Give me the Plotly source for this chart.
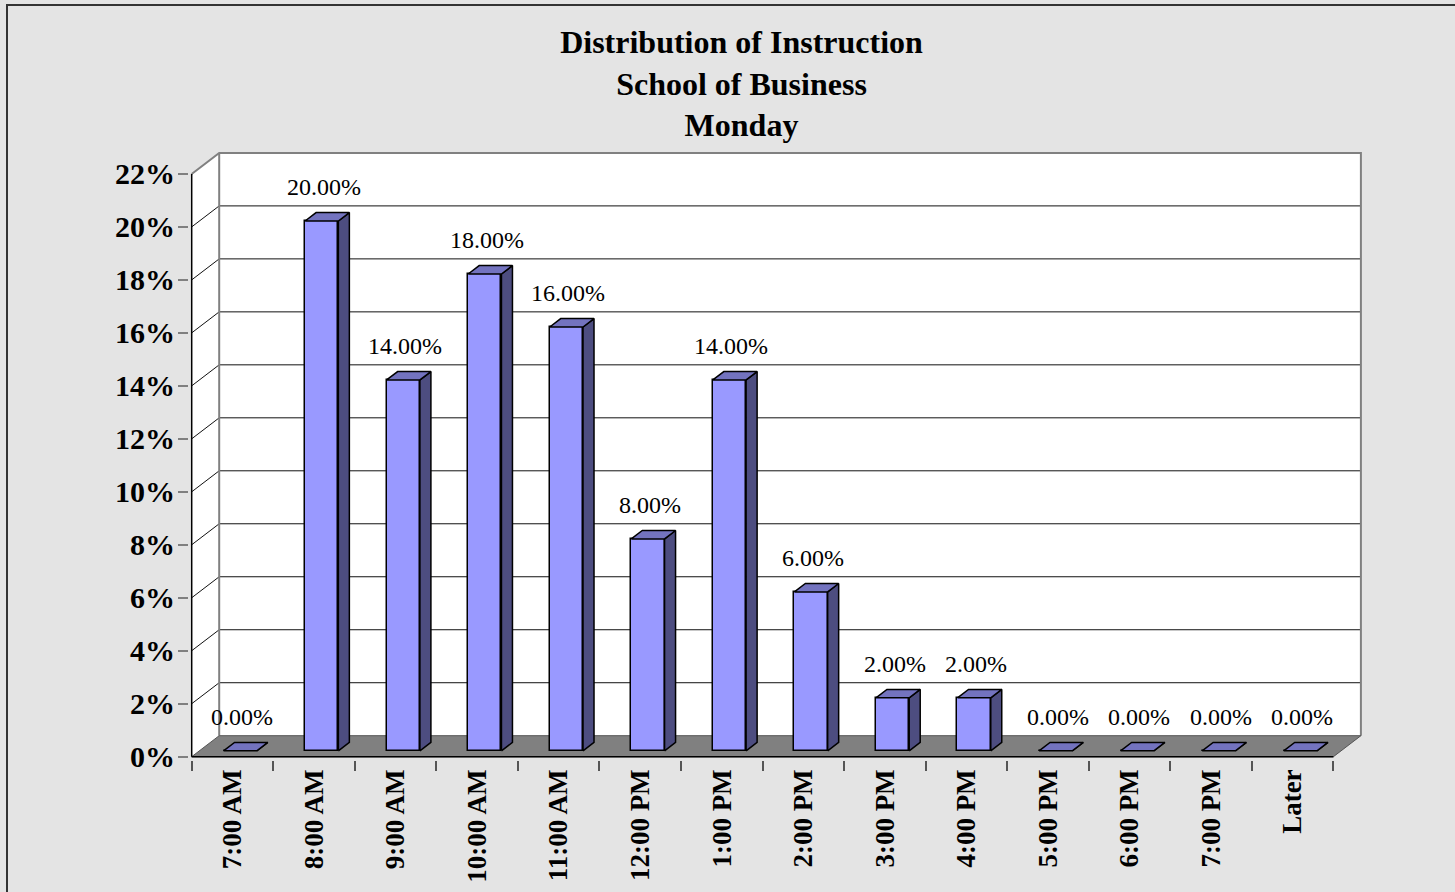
import plotly.graph_objects as go

# ---------------- data ----------------
categories = ["7:00 AM", "8:00 AM", "9:00 AM", "10:00 AM", "11:00 AM", "12:00 PM",
              "1:00 PM", "2:00 PM", "3:00 PM", "4:00 PM", "5:00 PM", "6:00 PM",
              "7:00 PM", "Later"]
shares = [0, 20, 14, 18, 16, 8, 14, 6, 2, 2, 0, 0, 0, 0]
y_ticks = [0, 2, 4, 6, 8, 10, 12, 14, 16, 18, 20, 22]
title_lines = ["Distribution of Instruction", "School of Business", "Monday"]

# ---------------- geometry / style ----------------
FIG_W, FIG_H = 1455, 892
PX_X = 81.55          # px per category
PX_Y = 26.49          # px per percent
FRONT_X0 = 191.7      # px of front edge x=-0.5
FRONT_Y0 = 756.7      # px of front y=0
DX = 27.5 / PX_X      # depth offset in x units
DY = 21.0 / PX_Y      # depth offset in y units
L, R, T, B = 189, 91, 150, 132
PW = FIG_W - L - R
PH = FIG_H - T - B
x_lo = -0.5 - (FRONT_X0 - L) / PX_X
x_hi = x_lo + PW / PX_X
y_lo = -((FIG_H - B) - FRONT_Y0) / PX_Y
y_hi = y_lo + PH / PX_Y

F = 0.28      # bar front depth fraction
BD = 0.40     # bar depth fraction
BW = 0.408    # bar width (category units)
FONT = "Liberation Serif, Times New Roman, serif"
BG = "#e4e4e4"

n = len(categories)
idx = list(range(n))
xmin, xmax = -0.5, n - 0.5
ymax = y_ticks[-1]

shapes = []
# back wall
shapes.append(dict(type="rect", xref="x", yref="y", layer="below",
                   x0=xmin + DX, x1=xmax + DX, y0=DY, y1=ymax + DY,
                   fillcolor="white", line=dict(width=0)))
# left wall
shapes.append(dict(type="path", xref="x", yref="y", layer="below",
                   path=f"M{xmin},0 L{xmin},{ymax} L{xmin+DX},{ymax+DY} L{xmin+DX},{DY} Z",
                   fillcolor="white", line=dict(width=0)))
# gridlines
for v in y_ticks[1:-1]:
    shapes.append(dict(type="line", xref="x", yref="y", layer="below",
                       x0=xmin + DX, x1=xmax + DX, y0=v + DY, y1=v + DY,
                       line=dict(color="#111", width=1)))
    shapes.append(dict(type="line", xref="x", yref="y", layer="below",
                       x0=xmin, x1=xmin + DX, y0=v, y1=v + DY,
                       line=dict(color="#111", width=1)))
# wall borders (gray)
shapes.append(dict(type="path", xref="x", yref="y", layer="below",
                   path=f"M{xmin},{ymax} L{xmin+DX},{ymax+DY} L{xmax+DX},{ymax+DY} L{xmax+DX},{DY}",
                   line=dict(color="#808080", width=2)))
shapes.append(dict(type="line", xref="x", yref="y", layer="below",
                   x0=xmin + DX, x1=xmin + DX, y0=DY, y1=ymax + DY,
                   line=dict(color="#808080", width=2)))
# floor
shapes.append(dict(type="path", xref="x", yref="y", layer="below",
                   path=f"M{xmin},0 L{xmax},0 L{xmax+DX},{DY} L{xmin+DX},{DY} Z",
                   fillcolor="#808080", line=dict(color="#555", width=1)))
# front axis lines
shapes.append(dict(type="line", xref="x", yref="y", layer="above",
                   x0=xmin, x1=xmin, y0=0, y1=ymax, line=dict(color="black", width=1.5)))
shapes.append(dict(type="line", xref="x", yref="y", layer="above",
                   x0=xmin, x1=xmax, y0=0, y1=0, line=dict(color="black", width=1.5)))
# outer chart frame (pixel -> paper)
def px2paper_x(px):
    return (px - L) / PW
def px2paper_y(py):
    return ((FIG_H - B) - py) / PH
shapes.append(dict(type="rect", xref="paper", yref="paper", layer="above",
                   x0=px2paper_x(7), x1=px2paper_x(1500),
                   y0=px2paper_y(950), y1=px2paper_y(5),
                   line=dict(color="#333", width=2), fillcolor="rgba(0,0,0,0)"))

fig = go.Figure()

# bar front faces
fig.add_trace(go.Bar(
    x=[i + F * DX for i in idx], y=shares, base=F * DY, width=BW,
    marker=dict(color="#9999ff", line=dict(color="black", width=1.5)),
    hoverinfo="skip", showlegend=False))

# bar side & top faces
side_x, side_y, top_x, top_y = [], [], [], []
ddx, ddy = BD * DX, BD * DY
for i, v in zip(idx, shares):
    xl = i + F * DX - BW / 2
    xr = xl + BW
    y0 = F * DY
    y1 = v + F * DY
    side_x += [xr, xr + ddx, xr + ddx, xr, xr, None]
    side_y += [y0, y0 + ddy, y1 + ddy, y1, y0, None]
    top_x += [xl, xl + ddx, xr + ddx, xr, xl, None]
    top_y += [y1, y1 + ddy, y1 + ddy, y1, y1, None]
fig.add_trace(go.Scatter(x=side_x, y=side_y, mode="lines", fill="toself",
                         fillcolor="#4d4d80", line=dict(color="black", width=1.5),
                         hoverinfo="skip", showlegend=False))
fig.add_trace(go.Scatter(x=top_x, y=top_y, mode="lines", fill="toself",
                         fillcolor="#7373bf", line=dict(color="black", width=1.5),
                         hoverinfo="skip", showlegend=False))

# data labels
annotations = []
for i, v in zip(idx, shares):
    annotations.append(dict(x=i + 0.35 * DX, y=v + F * DY, xref="x", yref="y",
                            text=f"{v:.2f}%", showarrow=False, yshift=34,
                            font=dict(family=FONT, size=24, color="black")))

fig.update_layout(
    width=FIG_W, height=FIG_H,
    margin=dict(l=L, r=R, t=T, b=B, pad=0, autoexpand=False),
    paper_bgcolor=BG, plot_bgcolor=BG,
    title=dict(text="<b>" + "<br>".join(title_lines) + "</b>",
               x=741.5 / FIG_W, xref="container", xanchor="center",
               y=1 - 53 / FIG_H, yref="container", yanchor="top",
               font=dict(family=FONT, size=32, color="black")),
    shapes=shapes, annotations=annotations,
    showlegend=False, bargap=0,
    xaxis=dict(range=[x_lo, x_hi], tickmode="array", tickvals=idx,
               ticktext=[f"<b>{c}</b>" for c in categories], tickangle=-90,
               ticks="", ticklabelstandoff=3,
               minor=dict(tickmode="array", tickvals=[i - 0.5 for i in range(n + 1)],
                          ticks="outside", ticklen=10, tickcolor="#555", tickwidth=1.5),
               showgrid=False, zeroline=False, showline=False, automargin=False,
               tickfont=dict(family=FONT, size=27, color="black"), fixedrange=True),
    yaxis=dict(range=[y_lo, y_hi], tickmode="array", tickvals=y_ticks,
               ticktext=[f"<b>{v}%</b>" for v in y_ticks],
               ticks="outside", ticklen=10, tickcolor="#808080", tickwidth=1.5,
               ticklabelstandoff=-3,
               showgrid=False, zeroline=False, showline=False, automargin=False,
               tickfont=dict(family=FONT, size=30, color="black"), fixedrange=True),
)

fig.write_html("out.html", config={"displayModeBar": False},
               post_script="document.body.style.margin='0';document.body.style.overflow='hidden';")
